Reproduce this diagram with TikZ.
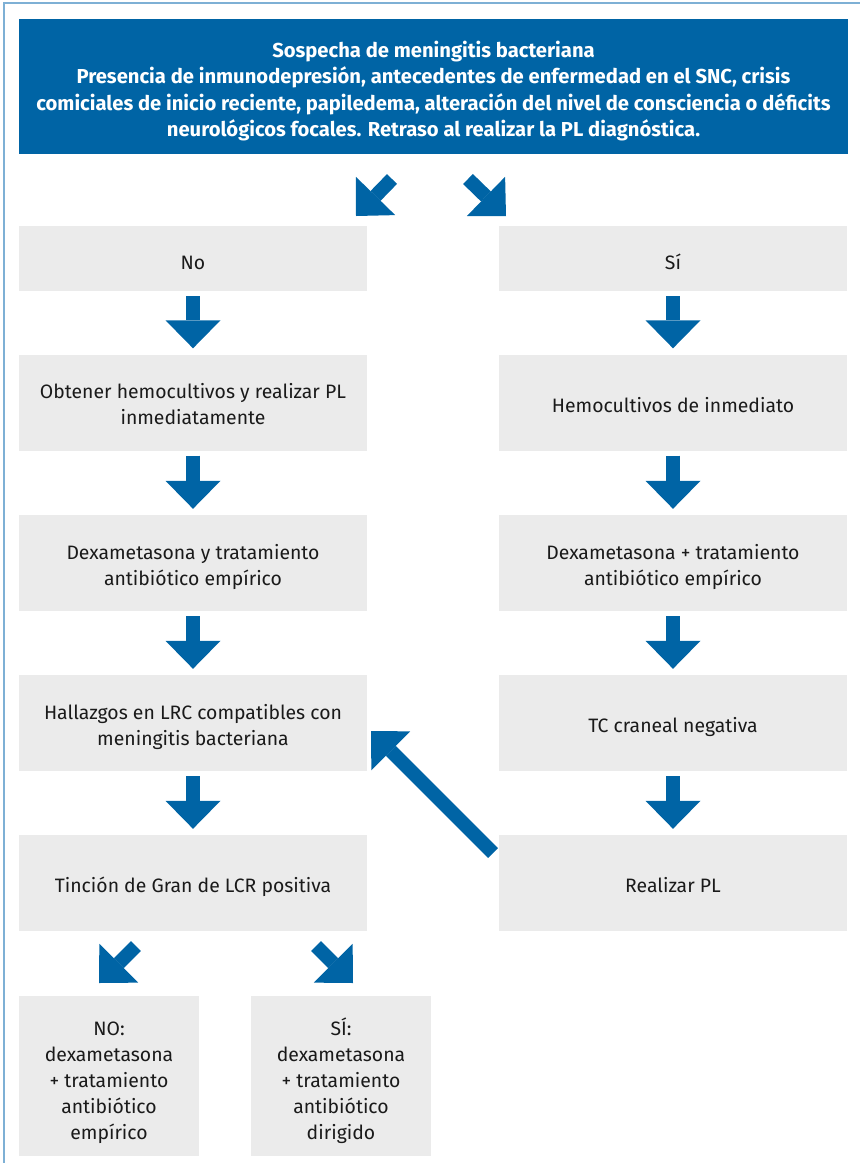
\documentclass[tikz,border=0pt]{standalone}
\usepackage{fontspec}
\setmainfont{Fira Sans}
\usetikzlibrary{arrows.meta}
\definecolor{mblue}{RGB}{0,100,165}
\definecolor{boxgray}{RGB}{235,235,235}
\definecolor{frameblue}{RGB}{126,176,213}
\definecolor{txt}{RGB}{26,26,26}
\begin{document}
\begin{tikzpicture}[x=1pt,y=-1pt,
  % struts fix where the text block sits inside each box
  strutted/.style={execute at begin node={\rule{0pt}{#1}},
    execute at end node={\rule[-6pt]{0pt}{6pt}}},
  box/.style={fill=boxgray, inner sep=0pt, align=flush center, text=txt, text width=330pt,
    font=\fontsize{19.4}{26}\selectfont, strutted=24pt,
    minimum width=348pt, minimum height=96pt},
  onebox/.style={box, strutted=25pt},
  topbox/.style={box, strutted=27pt, minimum height=65pt},
  smallbox/.style={box, strutted=30pt, text width=170pt,
    minimum width=180pt, minimum height=160pt},
  head/.style={fill=mblue, inner sep=0pt, align=flush center, text=white, text width=820pt,
    font=\bfseries\fontsize{20.2}{26.3}\selectfont, strutted=27pt,
    minimum width=829pt, minimum height=135pt},
  blk/.style={draw=mblue, line width=14pt,
    -{Triangle[width=55pt,length=28pt,line width=0pt]}}]
\useasboundingbox (0,0) rectangle (860,1163);
% outer frame (top and left edges)
\draw[frameblue, line width=2pt] (4,1163) -- (4,3) -- (860,3);

% header
\node[head] (h) at (433.5,86.5) {Sospecha de meningitis bacteriana\\
Presencia de inmunodepresión, antecedentes de enfermedad en el SNC, crisis\\
comiciales de inicio reciente, papiledema, alteración del nivel de consciencia o déficits\\
neurológicos focales. Retraso al realizar la PL diagnóstica.};

% left column
\node[topbox] (l1) at (193,258.5) {No};
\node[box] (l2) at (193,402.5) {Obtener hemocultivos y realizar PL\\inmediatamente};
\node[box] (l3) at (193,563) {Dexametasona y tratamiento\\antibiótico empírico};
\node[box] (l4) at (193,723) {Hallazgos en LRC compatibles con\\meningitis bacteriana};
\node[onebox] (l5) at (193,883) {Tinción de Gran de LCR positiva};

% right column
\node[topbox] (r1) at (673,258.5) {Sí};
\node[onebox] (r2) at (673,402.5) {Hemocultivos de inmediato};
\node[box] (r3) at (673,563) {Dexametasona + tratamiento\\antibiótico empírico};
\node[onebox] (r4) at (673,723) {TC craneal negativa};
\node[onebox] (r5) at (673,883) {Realizar PL};

% final outcomes
\node[smallbox] (b1) at (109,1075.5) {NO:\\dexametasona\\+ tratamiento\\antibiótico\\empírico};
\node[smallbox] (b2) at (341,1075.5) {SÍ:\\dexametasona\\+ tratamiento\\antibiótico\\dirigido};

% vertical block arrows
\foreach \a/\b in {l1/l2,l2/l3,l3/l4,l4/l5,r1/r2,r2/r3,r3/r4,r4/r5}
  \draw[blk] ([yshift=-5pt]\a.south) -- ([yshift=6pt]\b.north);

% diagonal block arrows
\coordinate (t1) at (392,179);
\coordinate (t2) at (468,179);
\coordinate (u1) at (136,946);
\coordinate (u2) at (316,946);
\coordinate (back) at (493,853);
\draw[blk] (t1) -- (356,216);
\draw[blk] (t2) -- (506,216);
\draw[blk] (u1) -- (99,983);
\draw[blk] (u2) -- (353,983);
\draw[blk] (back) -- (371,731);
\end{tikzpicture}
\end{document}
